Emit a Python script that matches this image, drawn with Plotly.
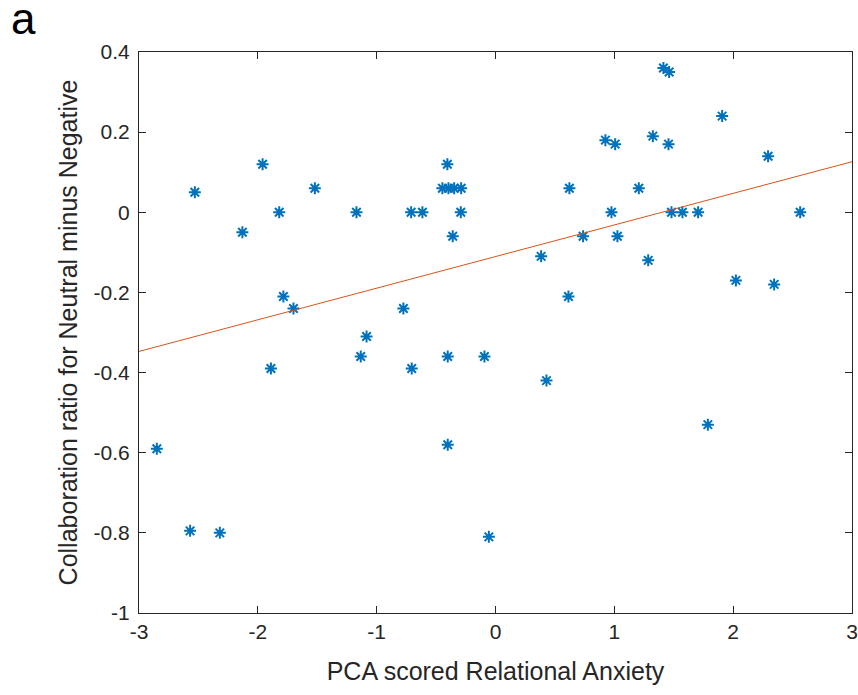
import plotly.graph_objects as go

# PCA scored Relational Anxiety (x) and collaboration ratio difference (y)
anxiety = [-2.85, -2.57, -2.32, -2.53, -2.13, -1.96, -1.82, -1.785, -1.70, -1.89,
           -1.52, -1.17, -1.134, -1.085, -0.775, -0.71, -0.705, -0.615,
           -0.447, -0.396, -0.348, -0.289, -0.405, -0.292, -0.36, -0.402, -0.402,
           -0.093, -0.056, 0.384, 0.429, 0.614, 0.622, 0.737, 0.925, 0.976,
           1.007, 1.026, 1.206, 1.285, 1.324, 1.413, 1.461, 1.456, 1.481,
           1.573, 1.705, 1.787, 1.907, 2.023, 2.294, 2.345, 2.564]
collab = [-0.59, -0.795, -0.80, 0.05, -0.05, 0.12, 0.0, -0.21, -0.24, -0.39,
          0.06, 0.0, -0.36, -0.31, -0.24, 0.0, -0.39, 0.0,
          0.06, 0.06, 0.06, 0.06, 0.12, 0.0, -0.06, -0.36, -0.58,
          -0.36, -0.81, -0.11, -0.42, -0.21, 0.06, -0.06, 0.18, 0.0,
          0.17, -0.06, 0.06, -0.12, 0.19, 0.36, 0.35, 0.17, 0.0,
          0.0, 0.0, -0.53, 0.24, -0.17, 0.14, -0.18, 0.0]

# least-squares line as drawn in the reference
fit_intercept = -0.1105
fit_slope = 0.0789
fit_x = [-3, 3]
fit_y = [fit_intercept + fit_slope * v for v in fit_x]

x_ticks = [-3, -2, -1, 0, 1, 2, 3]
x_ticktext = ["-3", "-2", "-1", "0", "1", "2", "3"]
y_ticks = [0.4, 0.2, 0, -0.2, -0.4, -0.6, -0.8, -1]
y_ticktext = ["0.4", "0.2", "0", "-0.2", "-0.4", "-0.6", "-0.8", "-1"]

FONT = "Liberation Sans, Arial, Helvetica, sans-serif"

fig = go.Figure()
fig.add_trace(go.Scatter(
    x=anxiety, y=collab, mode="markers",
    marker=dict(symbol="asterisk-open", size=10, color="#0072BD",
                line=dict(color="#0072BD", width=2)),
    showlegend=False, hoverinfo="x+y"))
fig.add_trace(go.Scatter(
    x=fit_x, y=fit_y, mode="lines",
    line=dict(color="#D95319", width=1), showlegend=False))

axis_common = dict(showgrid=False, zeroline=False, showline=True, automargin=False,
                   linecolor="#262626", linewidth=1, mirror="allticks",
                   ticks="inside", ticklen=7, tickcolor="#262626", tickwidth=1,
                   tickfont=dict(family=FONT, size=21, color="#262626"))

fig.update_xaxes(range=[-3, 3], tickvals=x_ticks, ticktext=x_ticktext,
                 title=dict(text="PCA scored Relational Anxiety", standoff=20,
                            font=dict(family=FONT, size=25, color="#262626")),
                 **axis_common)
fig.update_yaxes(range=[-1, 0.4], tickvals=y_ticks, ticktext=y_ticktext,
                 ticklabelstandoff=4,
                 title=dict(text="Collaboration ratio for Neutral minus Negative",
                            standoff=8,
                            font=dict(family=FONT, size=25, color="#262626")),
                 **axis_common)

fig.add_annotation(text="a", xref="paper", yref="paper", x=-0.182, y=1.059,
                   xanchor="left", yanchor="middle", showarrow=False,
                   font=dict(family=FONT, size=44, color="black"))

fig.update_layout(width=858, height=695,
                  margin=dict(l=139, r=6, t=52, b=82),
                  paper_bgcolor="white", plot_bgcolor="white")

fig.write_html("out.html", config={"displayModeBar": False},
               post_script="document.body.style.margin='0';document.body.style.overflow='hidden';")
